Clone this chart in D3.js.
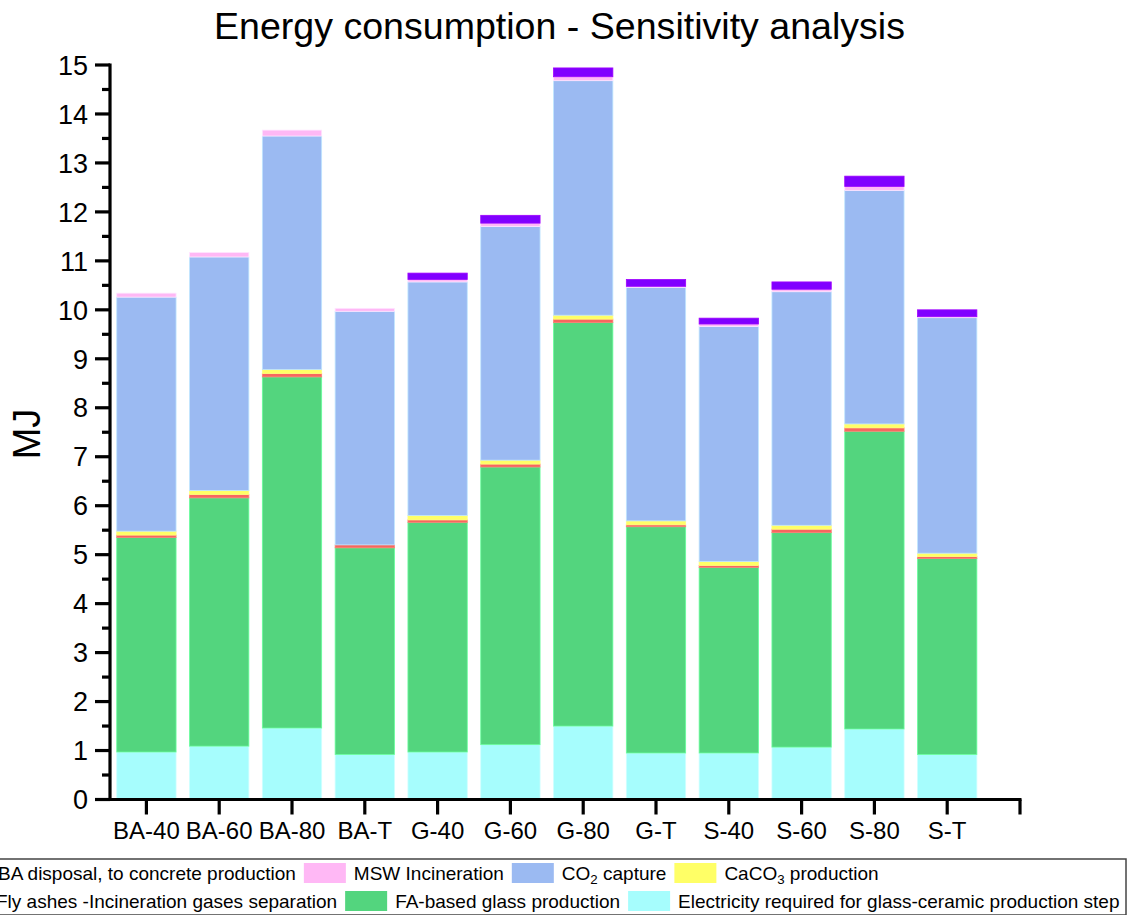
<!DOCTYPE html>
<html><head><meta charset="utf-8">
<script src="https://cdn.jsdelivr.net/npm/d3@7"></script>
<style>
html,body{margin:0;padding:0;background:#fff;}
svg{display:block;font-family:"Liberation Sans",Arial,sans-serif;}
</style></head>
<body><svg id="chart" width="1130" height="915"></svg>
<script>
const categories = ["BA-40","BA-60","BA-80","BA-T","G-40","G-60","G-80","G-T","S-40","S-60","S-80","S-T"];
const electricity = [0.97,1.09,1.46,0.92,0.97,1.12,1.50,0.95,0.95,1.07,1.44,0.92];
const faGlass     = [4.38,5.07,7.17,4.22,4.69,5.67,8.24,4.62,3.79,4.38,6.08,4.00];
const flyAsh      = [0.05,0.07,0.07,0.06,0.05,0.06,0.07,0.04,0.04,0.07,0.07,0.04];
const caco3       = [0.08,0.08,0.08,0.00,0.09,0.08,0.08,0.08,0.08,0.08,0.08,0.07];
const co2Capture  = [4.78,4.77,4.77,4.77,4.77,4.77,4.79,4.77,4.80,4.77,4.77,4.81];
const mswInc      = [0.08,0.09,0.12,0.06,0.05,0.07,0.08,0.02,0.05,0.05,0.08,0.02];
const baDisposal  = [0.00,0.00,0.00,0.00,0.13,0.16,0.18,0.14,0.12,0.15,0.21,0.14];
const yTicks = d3.range(0,16);

const series = [
  {key:"electricity", name:"Electricity required for glass-ceramic production step", values:electricity, color:"#a6fdfd"},
  {key:"faGlass", name:"FA-based glass production", values:faGlass, color:"#53d57e"},
  {key:"flyAsh", name:"Fly ashes -Incineration gases separation", values:flyAsh, color:"#f7665f"},
  {key:"caco3", name:"CaCO3 production", values:caco3, color:"#ffff66"},
  {key:"co2", name:"CO2 capture", values:co2Capture, color:"#9bbaf2"},
  {key:"msw", name:"MSW Incineration", values:mswInc, color:"#ffb8f5"},
  {key:"ba", name:"BA disposal, to concrete production", values:baDisposal, color:"#8000ff"}
];

const table = categories.map((c,i)=>{
  const o={cat:c}; series.forEach(s=>o[s.key]=s.values[i]); return o;
});
const stack = d3.stack().keys(series.map(s=>s.key))(table);

const svg = d3.select("#chart");
const x0 = 110, step = 72.8;
const x = d3.scaleBand().domain(categories).range([x0, x0+step*categories.length]).paddingInner(0.185).paddingOuter(0.0925);
const y = d3.scaleLinear().domain([0,15]).range([799.5,65]);

// bars
const g = svg.append("g");
stack.forEach((layer,li)=>{
  const col = series[li].color;
  g.append("g").selectAll("rect").data(layer).join("rect")
    .attr("x", d=>x(d.data.cat))
    .attr("width", x.bandwidth())
    .attr("y", d=>y(d[1]))
    .attr("height", d=>Math.max(0, y(d[0])-y(d[1])))
    .attr("fill", col)
    .attr("stroke", d3.color(col).brighter(0.6))
    .attr("stroke-width", 0.8)
    .attr("display", d=> (d[1]-d[0])>0 ? null : "none");
});

// y axis
const yAxisG = svg.append("g");
yAxisG.append("line").attr("x1",x0).attr("x2",x0).attr("y1",y(15)-1.5).attr("y2",y(0)+1.5)
  .attr("stroke","#000").attr("stroke-width",3.2);
const minor = d3.range(0.5,15,1);
yAxisG.selectAll(".maj").data(yTicks).join("line")
  .attr("x1",x0-15).attr("x2",x0).attr("y1",d=>y(d)).attr("y2",d=>y(d))
  .attr("stroke","#000").attr("stroke-width",3.2);
yAxisG.selectAll(".min").data(minor).join("line")
  .attr("x1",x0-8).attr("x2",x0).attr("y1",d=>y(d)).attr("y2",d=>y(d))
  .attr("stroke","#000").attr("stroke-width",3.2);
yAxisG.selectAll("text").data(yTicks).join("text")
  .attr("x",88).attr("y",d=>y(d)).attr("dy","0.36em")
  .attr("text-anchor","end").attr("font-size",27).attr("fill","#000")
  .text(d=>d);

// x axis
const xEnd = x0 + step*(categories.length+0.5);
const xAxisG = svg.append("g");
xAxisG.append("line").attr("x1",x0-15).attr("x2",xEnd+1.5).attr("y1",y(0)).attr("y2",y(0))
  .attr("stroke","#000").attr("stroke-width",3.2);
const tickXs = categories.map(c=>x(c)+x.bandwidth()/2).concat([xEnd]);
xAxisG.selectAll(".xt").data(tickXs).join("line")
  .attr("x1",d=>d).attr("x2",d=>d).attr("y1",y(0)).attr("y2",y(0)+15)
  .attr("stroke","#000").attr("stroke-width",3.2);
xAxisG.selectAll("text").data(categories).join("text")
  .attr("x",c=>x(c)+x.bandwidth()/2).attr("y",839)
  .attr("text-anchor","middle").attr("font-size",24).attr("fill","#000")
  .text(c=>c);

// title
svg.append("text").attr("x",559.5).attr("y",39).attr("text-anchor","middle")
  .attr("font-size",37).attr("fill","#000")
  .attr("textLength",691).attr("lengthAdjust","spacingAndGlyphs")
  .text("Energy consumption - Sensitivity analysis");

// y label
svg.append("text").attr("transform","translate(40,434) rotate(-90)")
  .attr("text-anchor","middle").attr("font-size",38).attr("fill","#000").text("MJ");

// legend
const legG = svg.append("g");
legG.append("rect").attr("x",-60).attr("y",859).attr("width",1186).attr("height",56)
  .attr("fill","#fff").attr("stroke","#444").attr("stroke-width",1.5);
const rows = [
  {y:873, keys:["ba","msw","co2","caco3"], textStart:-2},
  {y:901, keys:["flyAsh","faGlass","electricity"], textStart:-4}
];
const fs = 19;
function addLabel(sel, name){
  const m = name.match(/^(CaCO|CO)(\d)(.*)$/);
  if(m){
    sel.append("tspan").text(m[1]);
    sel.append("tspan").attr("font-size",fs*0.7).attr("dy",4).text(m[2]);
    sel.append("tspan").attr("dy",-4).text(m[3]);
  } else sel.text(name);
}
rows.forEach(r=>{
  let cx = r.textStart - 50;
  r.keys.forEach(k=>{
    const s = series.find(d=>d.key===k);
    legG.append("rect").attr("x",cx).attr("y",r.y-10).attr("width",42).attr("height",20)
      .attr("fill",s.color);
    const t = legG.append("text").attr("x",cx+50).attr("y",r.y).attr("dy","0.35em")
      .attr("font-size",fs).attr("fill","#000");
    addLabel(t, s.name);
    const w = t.node().getComputedTextLength();
    cx = cx + 50 + w + 8;
  });
});
</script></body></html>
